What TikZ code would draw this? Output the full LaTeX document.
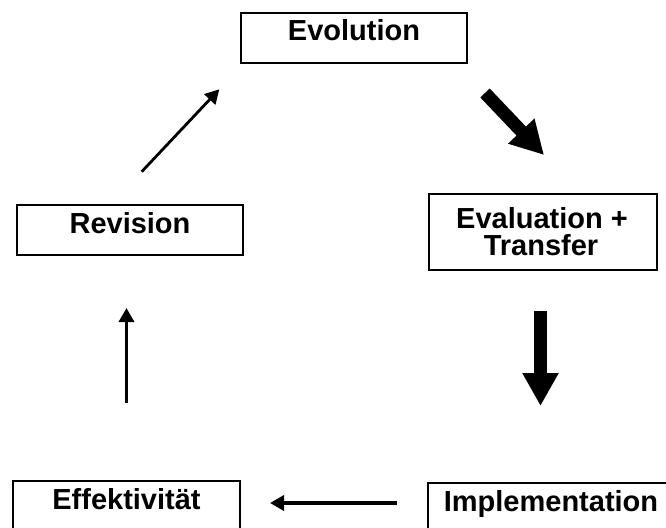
\documentclass[tikz,border=0pt]{standalone}
\usepackage{fontspec}
\setmainfont{Liberation Sans}
\usetikzlibrary{arrows.meta}
\begin{document}
\begin{tikzpicture}[x=1pt,y=-1pt,
  lbl/.style={font=\fontsize{29}{32}\selectfont\bfseries},
  box/.style={lbl, draw, line width=1.2pt, inner sep=0pt, minimum height=50pt,
    text height=28pt, text depth=22pt},
  thickarrow/.style={line width=13pt, -{Triangle[length=33pt,width=34pt]}},
  thinarrow/.style={line width=3.5pt, -{Triangle[length=14pt,width=15pt]}}]
\useasboundingbox (0,0) rectangle (666,527);
\fill[white] (0,0) rectangle (666,527);
\clip (0,0) rectangle (666,527);
% boxes
\node[box, minimum width=226pt] (evol) at (354,38) {Evolution};
\node[box, minimum width=226pt] (rev) at (130,230) {Revision};
\node[box, minimum width=227pt] (eff) at (126.5,506) {Effektivität};
\node[box, minimum width=246pt] (impl) at (551,508) {Implementation};
\node[draw, line width=1.2pt, inner sep=0pt, minimum width=228pt, minimum height=76pt] (evt) at (543,232) {};
\node[lbl, anchor=base, inner sep=0pt] (evtA) at (542,228) {Evaluation +};
\node[lbl, anchor=base, inner sep=0pt] (evtB) at (541,255) {Transfer};
% arrow end points
\coordinate (a1s) at (485,93);
\coordinate (a1e) at (544,155);
\coordinate (a2s) at (540.5,311);
\coordinate (a2e) at (540.5,406);
\coordinate (a3s) at (397,503);
\coordinate (a3e) at (270,503);
\coordinate (a4s) at (126.5,403);
\coordinate (a4e) at (126.5,308);
\coordinate (a5s) at (141.7,171.7);
\coordinate (a5e) at (219.3,89.3);
% arrows
\draw[thickarrow] (a1s) -- (a1e);
\draw[thickarrow] (a2s) -- (a2e);
\draw[thinarrow] (a3s) -- (a3e);
\draw[thinarrow] (a4s) -- (a4e);
\draw[thinarrow, line width=2.8pt] (a5s) -- (a5e);
\end{tikzpicture}
\end{document}
